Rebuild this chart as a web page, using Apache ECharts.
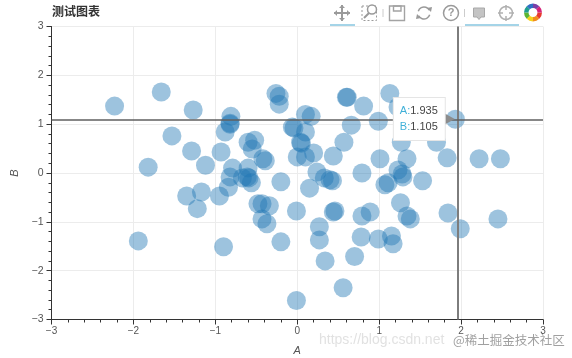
<!DOCTYPE html>
<html>
<head>
<meta charset="utf-8">
<style>
  html, body { margin: 0; padding: 0; background: #fff; }
  #chart { width: 572px; height: 358px; }
</style>
<script src="https://cdn.jsdelivr.net/npm/echarts@6/dist/echarts.min.js"></script>
</head>
<body>
<div id="chart"></div>
<script>
const pointA = [-2.23,-1.66,-1.27,-1.53,-1.29,-1.12,-1.82,-0.93,-0.81,-0.82,-0.82,-0.88,-0.6,-0.52,-0.55,-0.42,-0.39,-0.79,-0.6,-0.26,-0.22,-0.22,-0.06,-0.04,0.1,0.17,0.1,0.05,0.04,0,0.1,0.2,0.44,0.6,0.61,0.81,1.13,1.23,0.66,0.99,1.93,0.57,1.27,1.7,1.83,2.22,2.48,1.34,1.01,0.79,1.23,1.28,1.29,1.53,1.07,1.11,0.24,0.33,0.4,0.43,0.15,-0.82,-0.67,-0.61,-0.59,-0.56,-0.84,-0.95,-1.35,-1.17,-1.22,-0.2,-0.48,-0.43,-0.34,-0.43,-0.37,-0.01,0.44,0.46,0.27,0.27,-0.2,-1.94,-0.9,1.26,1.34,1.38,0.79,0.89,1.84,2.45,1.99,0.78,0.99,1.15,1.17,0.34,0.7,0.56,-0.01]
const pointB = [1.37,1.66,1.29,0.76,0.45,0.16,0.12,0.43,1.16,1.02,1.0,0.84,0.63,0.67,0.49,0.29,0.25,0.1,0.1,1.63,1.57,1.41,0.94,0.92,1.2,1.16,0.84,0.61,0.63,0.33,0.33,0.41,0.35,1.55,1.55,1.37,1.63,1.35,0.98,1.06,1.1,0.63,0.63,0.63,0.31,0.29,0.29,0.29,0.29,0,0.06,-0.02,-0.08,-0.16,-0.24,-0.2,0.02,-0.1,-0.14,-0.16,-0.31,-0.08,-0.1,-0.08,-0.1,-0.2,-0.29,-0.47,-0.47,-0.39,-0.73,-0.18,-0.63,-0.63,-0.67,-0.94,-1.04,-0.78,-0.8,-0.78,-1.1,-1.37,-1.41,-1.39,-1.51,-0.61,-0.88,-0.94,-0.88,-0.8,-0.82,-0.94,-1.14,-1.31,-1.35,-1.29,-1.45,-1.8,-1.71,-2.35,-2.61]
const crossA = 1.963
const crossB = 1.09
const hoverA = 1.935
const hoverB = 1.105

const minus = v => String(v).replace('-', '\u2212')
const chart = echarts.init(document.getElementById('chart'))

// colour wheel of the toolbar logo
const wheelColors = ['#e8392f', '#f28c1e', '#f7d21c', '#5cb531', '#1f9e8f', '#2f6fc4', '#7a3fa8', '#d4257a']
const wheel = wheelColors.map((c, i) => ({
  type: 'sector',
  shape: {
    cx: 533, cy: 12.5, r: 9, r0: 4.5,
    startAngle: i * Math.PI / 4,
    endAngle: (i + 1) * Math.PI / 4
  },
  style: { fill: c }
}))

const iconLine = { stroke: '#a3a3a3', fill: 'none', lineWidth: 1.4 }
const iconGrey = { stroke: '#9a9a9a', fill: 'none', lineWidth: 1.5 }

chart.setOption({
  animation: false,
  backgroundColor: '#fff',
  title: {
    text: '测试图表',
    left: 52,
    top: 5,
    padding: 0,
    textStyle: { fontFamily: 'Noto Sans CJK SC', fontSize: 12, fontWeight: 'bold', color: '#333' }
  },
  grid: { left: 51.5, right: 29, top: 26.5, bottom: 38.5, outerBoundsMode: 'none' },
  xAxis: {
    type: 'value', min: -3, max: 3, interval: 1,
    name: 'A', nameLocation: 'middle', nameGap: 26,
    nameTextStyle: { fontFamily: 'Liberation Sans', fontStyle: 'italic', fontSize: 11, color: '#555' },
    axisLine: { show: true, onZero: false, lineStyle: { color: '#333', width: 1 } },
    axisTick: { show: true, length: 5, lineStyle: { color: '#333' } },
    minorTick: { show: true, splitNumber: 5, length: 3, lineStyle: { color: '#333' } },
    axisLabel: { formatter: minus, margin: 7, fontFamily: 'Liberation Sans', fontSize: 10, color: '#555', showMinLabel: true, showMaxLabel: true },
    splitLine: { show: true, lineStyle: { color: '#ececec' } }
  },
  yAxis: {
    type: 'value', min: -3, max: 3, interval: 1,
    name: 'B', nameLocation: 'middle', nameGap: 31,
    nameTextStyle: { fontFamily: 'Liberation Sans', fontStyle: 'italic', fontSize: 11, color: '#555' },
    axisLine: { show: true, onZero: false, lineStyle: { color: '#333', width: 1 } },
    axisTick: { show: true, length: 5, lineStyle: { color: '#333' } },
    minorTick: { show: true, splitNumber: 5, length: 3, lineStyle: { color: '#333' } },
    axisLabel: { formatter: minus, margin: 8, fontFamily: 'Liberation Sans', fontSize: 10.5, color: '#555', showMinLabel: true, showMaxLabel: true },
    splitLine: { show: true, lineStyle: { color: '#ececec' } }
  },
  series: [{
    type: 'scatter',
    data: pointA.map((a, i) => [a, pointB[i]]),
    symbolSize: 19,
    itemStyle: { color: 'rgba(31,119,180,0.55)' },
    silent: true,
    markLine: {
      silent: true,
      symbol: 'none',
      label: { show: false },
      data: [
        { xAxis: crossA, lineStyle: { color: '#7d7d7d', width: 2, type: 'solid' } },
        { yAxis: crossB, lineStyle: { color: '#5f5f5f', width: 1.5, type: 'solid' } }
      ]
    },
    markPoint: {
      silent: true,
      data: [{
        coord: [hoverA, hoverB],
        symbol: 'triangle',
        symbolSize: [11, 10],
        symbolRotate: -90,
        symbolOffset: [-6, 0],
        itemStyle: { color: '#8c8c8c' },
        label: {
          show: true,
          position: 'left',
          distance: 0,
          formatter: '{k|A:}{v|' + hoverA + '}\n{k|B:}{v|' + hoverB + '}',
          backgroundColor: '#fff',
          borderColor: '#e5e5e5',
          borderWidth: 1,
          padding: [5, 7, 5, 6],
          rich: {
            k: { color: '#3fb0d8', fontFamily: 'Liberation Sans', fontSize: 11, lineHeight: 16 },
            v: { color: '#444', fontFamily: 'Liberation Sans', fontSize: 11, lineHeight: 16 }
          }
        }
      }]
    }
  }],
  graphic: [
    // toolbar: pan
    { type: 'line', shape: { x1: 334, y1: 13, x2: 350, y2: 13 }, style: { stroke: '#9a9a9a', lineWidth: 2 } },
    { type: 'line', shape: { x1: 342, y1: 5, x2: 342, y2: 21 }, style: { stroke: '#9a9a9a', lineWidth: 2 } },
    { type: 'polygon', shape: { points: [[334, 13], [337, 10], [337, 16]] }, style: { fill: '#9a9a9a' } },
    { type: 'polygon', shape: { points: [[350, 13], [347, 10], [347, 16]] }, style: { fill: '#9a9a9a' } },
    { type: 'polygon', shape: { points: [[342, 5], [339, 8], [345, 8]] }, style: { fill: '#9a9a9a' } },
    { type: 'polygon', shape: { points: [[342, 21], [339, 18], [345, 18]] }, style: { fill: '#9a9a9a' } },
    { type: 'line', shape: { x1: 330, y1: 25, x2: 355, y2: 25 }, style: { stroke: '#4ba9d0', lineWidth: 1 } },
    // box zoom
    { type: 'rect', shape: { x: 362, y: 6, width: 14.5, height: 14.5 }, style: { stroke: '#9a9a9a', fill: 'none', lineWidth: 1, lineDash: [2, 2] } },
    { type: 'circle', shape: { cx: 372, cy: 9.5, r: 4.5 }, style: { stroke: '#9a9a9a', fill: '#fff', lineWidth: 1.5 } },
    { type: 'line', shape: { x1: 369, y1: 13, x2: 364, y2: 18 }, style: { stroke: '#9a9a9a', lineWidth: 2 } },
    { type: 'line', shape: { x1: 383, y1: 9, x2: 383, y2: 17 }, style: { stroke: '#cccccc', lineWidth: 1 } },
    // save
    { type: 'rect', shape: { x: 389.5, y: 6, width: 15, height: 14.5 }, style: iconLine },
    { type: 'rect', shape: { x: 393.5, y: 6, width: 7.5, height: 5 }, style: iconLine },
    // reset
    { type: 'arc', shape: { cx: 424, cy: 13, r: 6, startAngle: Math.PI * 1.1, endAngle: Math.PI * 1.85 }, style: iconGrey },
    { type: 'arc', shape: { cx: 424, cy: 13, r: 6, startAngle: Math.PI * 0.1, endAngle: Math.PI * 0.85 }, style: iconGrey },
    { type: 'polygon', shape: { points: [[427, 8], [432, 7], [431, 12]] }, style: { fill: '#9a9a9a' } },
    { type: 'polygon', shape: { points: [[421, 18], [416, 19], [417, 14]] }, style: { fill: '#9a9a9a' } },
    // help
    { type: 'circle', shape: { cx: 451, cy: 13, r: 7.5 }, style: iconGrey },
    { type: 'text', x: 451, y: 13, style: { text: '?', fill: '#9a9a9a', font: 'bold 11px Liberation Sans', align: 'center', verticalAlign: 'middle' } },
    { type: 'line', shape: { x1: 464.5, y1: 9, x2: 464.5, y2: 17 }, style: { stroke: '#cccccc', lineWidth: 1 } },
    // hover tooltip
    { type: 'polygon', shape: { points: [[473.5, 8], [484.5, 8], [484.5, 17], [481, 17], [479, 19.5], [477, 17], [473.5, 17]] }, style: { fill: '#c4c4c4', stroke: '#a8a8a8', lineWidth: 1 } },
    // crosshair
    { type: 'circle', shape: { cx: 506, cy: 13, r: 6.5 }, style: { stroke: '#b0b0b0', fill: 'none', lineWidth: 1.5 } },
    { type: 'line', shape: { x1: 506, y1: 5, x2: 506, y2: 10 }, style: { stroke: '#b0b0b0', lineWidth: 1.5 } },
    { type: 'line', shape: { x1: 506, y1: 16, x2: 506, y2: 21 }, style: { stroke: '#b0b0b0', lineWidth: 1.5 } },
    { type: 'line', shape: { x1: 498, y1: 13, x2: 503, y2: 13 }, style: { stroke: '#b0b0b0', lineWidth: 1.5 } },
    { type: 'line', shape: { x1: 509, y1: 13, x2: 514, y2: 13 }, style: { stroke: '#b0b0b0', lineWidth: 1.5 } },
    { type: 'line', shape: { x1: 465, y1: 25, x2: 519, y2: 25 }, style: { stroke: '#4ba9d0', lineWidth: 1 } },
    ...wheel,
    // watermarks
    { type: 'text', x: 319, y: 340, z: 50, style: { text: 'https://blog.csdn.net', fill: 'rgba(170,170,170,0.35)', font: '14px Liberation Sans', verticalAlign: 'middle' } },
    { type: 'text', x: 453, y: 340, z: 51, style: { text: '@稀土掘金技术社区', fill: 'rgba(150,150,150,0.9)', font: '12.5px Noto Sans CJK SC', verticalAlign: 'middle' } }
  ]
})
</script>
</body>
</html>
